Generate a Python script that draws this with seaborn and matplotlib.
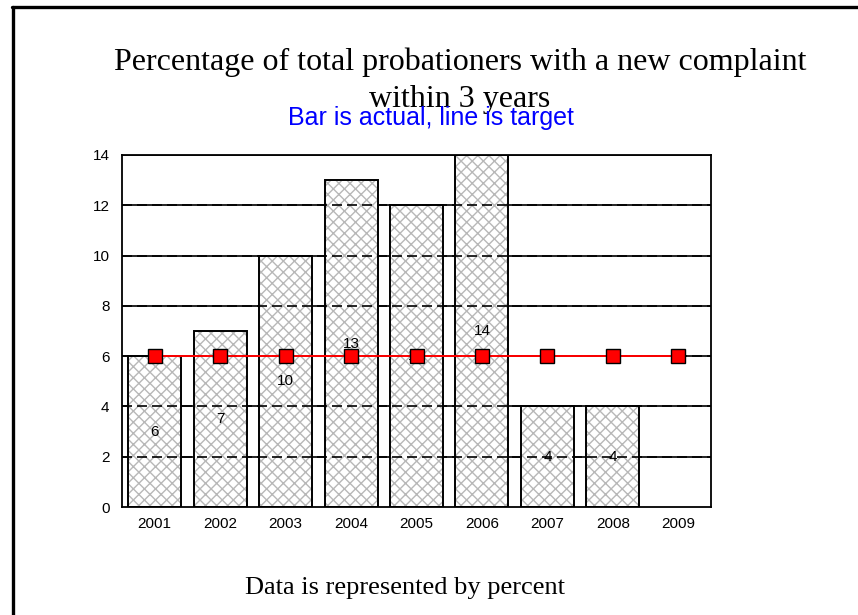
import numpy as np
import pandas as pd
import matplotlib.pyplot as plt
from matplotlib.lines import Line2D
import seaborn as sns

years = ["2001", "2002", "2003", "2004", "2005", "2006", "2007", "2008", "2009"]
actual = [6, 7, 10, 13, 12, 14, 4, 4, np.nan]
target = [6, 6, 6, 6, 6, 6, 6, 6, 6]

data = pd.DataFrame({"Year": years, "Actual": actual, "Target": target})

sns.set_style("white")
plt.rcParams["font.family"] = ["Liberation Sans", "DejaVu Sans"]
plt.rcParams["text.color"] = "black"
plt.rcParams["hatch.linewidth"] = 1.0

fig = plt.figure(figsize=(8.58, 6.15), dpi=100)
ax = fig.add_axes([0.1422, 0.1756, 0.6865, 0.5724])

# solid grid behind everything
ax.set_axisbelow(True)
for v in range(2, 15, 2):
    ax.axhline(v, color="black", lw=1.2, zorder=0)

# hatched fill (grey hatch), then black outline on top
sns.barplot(data=data, x="Year", y="Actual", order=years, color="white",
            edgecolor="#b8b8b8", linewidth=0, width=0.81, ax=ax, zorder=1)
for p in ax.patches:
    p.set_hatch("xxx")
n_fill = len(ax.patches)
sns.barplot(data=data, x="Year", y="Actual", order=years, fill=False,
            edgecolor="black", linewidth=1.4, width=0.81, ax=ax, zorder=3)

# dashed grid over the bars (solid grid shows through in the gaps)
for v in range(2, 14, 2):
    ax.axhline(v, color="black", lw=1.2, ls=(0, (6, 3)), zorder=2)

for i, v in enumerate(actual):
    if not np.isnan(v):
        ax.text(i, v / 2, f"{v:g}", ha="center", va="center", fontsize=11,
                color="black", zorder=3)

sns.pointplot(data=data, x="Year", y="Target", order=years, color="red",
              markers="s", markersize=10, markeredgecolor="black",
              markeredgewidth=1.0, linewidth=1.4, ax=ax, zorder=4)

ax.set_ylim(0, 14)
ax.set_xlim(-0.5, 8.5)
ax.set_yticks(range(0, 15, 2))
ax.set_xlabel("")
ax.set_ylabel("")
ax.tick_params(axis="both", length=0, labelsize=11, colors="black")
ax.tick_params(axis="y", pad=9)
ax.tick_params(axis="x", pad=7)
for s in ax.spines.values():
    s.set_visible(True)
    s.set_color("black")
    s.set_linewidth(1.3)
    s.set_zorder(5)

fig.text(0.536, 0.899, "Percentage of total probationers with a new complaint",
         ha="center", va="center", fontsize=23, family="Liberation Serif")
fig.text(0.536, 0.838, "within 3 years", ha="center", va="center",
         fontsize=23, family="Liberation Serif")
fig.text(0.502, 0.808, "Bar is actual, line is target", ha="center",
         va="center", fontsize=18, color="#0000ff")
fig.text(0.472, 0.044, "Data is represented by percent", ha="center",
         va="center", fontsize=19, family="Liberation Serif")

# page frame: top and left edges
fig.add_artist(Line2D([0.0145, 1.0], [0.9886, 0.9886], color="black", lw=2.4,
                      transform=fig.transFigure))
fig.add_artist(Line2D([0.0152, 0.0152], [0.0, 0.9886], color="black", lw=2.4,
                      transform=fig.transFigure))

fig.savefig("out.png", dpi=100)
